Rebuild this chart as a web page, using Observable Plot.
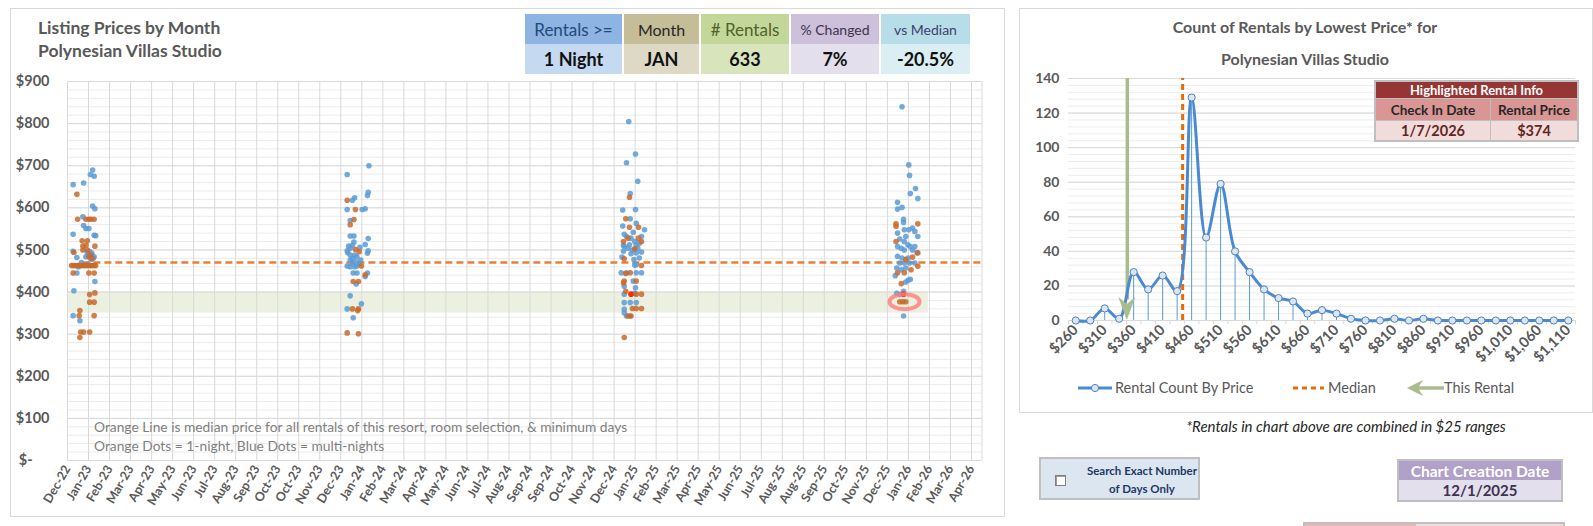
<!DOCTYPE html>
<html><head><meta charset="utf-8">
<script src="https://cdn.jsdelivr.net/npm/d3@7"></script>
<script src="https://cdn.jsdelivr.net/npm/@observablehq/plot@0.6"></script>
<style>
body{margin:0;background:#fff;font-family:Lato,"Open Sans",sans-serif;}
#root{position:relative;width:1593px;height:526px;overflow:hidden;background:#fff;}
.abs{position:absolute;white-space:nowrap;box-sizing:border-box;}
.cell{position:absolute;box-sizing:border-box;display:flex;align-items:center;justify-content:center;white-space:nowrap;}
svg{overflow:visible;}
</style></head><body><div id="root"></div>
<script>
// ---------------- DATA ----------------
const monthTickLabels = ["Dec-22","Jan-23","Feb-23","Mar-23","Apr-23","May-23","Jun-23","Jul-23","Aug-23","Sep-23","Oct-23","Oct-23","Nov-23","Dec-23","Jan-24","Feb-24","Mar-24","Apr-24","May-24","Jun-24","Jul-24","Aug-24","Sep-24","Sep-24","Oct-24","Nov-24","Dec-24","Jan-25","Feb-25","Mar-25","Apr-25","May-25","Jun-25","Jul-25","Aug-25","Aug-25","Sep-25","Oct-25","Nov-25","Dec-25","Jan-26","Feb-26","Mar-26","Apr-26"];
const tickStart = [2022, 11, 25];   // first tick date
const tickStepDays = 28;
const axisEnd = [2026, 3, 26];      // right end of the date axis
const priceTicks = [0,100,200,300,400,500,600,700,800,900];
const medianPrice = 470;
const medianStart = [2023, 0, 14];
const bandLow = 350, bandHigh = 400;
const bandEnd = [2026, 1, 13];

// [day of January, price]
const jan2023Multi = [[27,690],[24,679],[29,675],[1,655],[15,659],[27,604],[30,598],[14,579],[15,558],[18,551],[22,551],[29,535],[31,534],[1,537],[1,497],[6,482],[23,496],[26,492],[29,484],[25,478],[22,488],[18,484],[20,493],[25,488],[28,480],[30,425],[2,403],[1,344],[10,332],[6,445],[8,460],[12,470],[21,466]];
const jan2023OneNight = [[6,632],[7,573],[18,573],[22,573],[25,573],[29,573],[13,522],[20,522],[18,511],[14,509],[30,509],[2,494],[14,500],[20,500],[22,484],[24,488],[26,480],[-1,463],[1,463],[3,463],[5,463],[7,463],[9,463],[11,463],[13,463],[15,463],[17,463],[19,463],[21,463],[23,463],[25,463],[27,463],[29,463],[31,463],[1,445],[22,445],[29,445],[23,394],[30,398],[23,376],[29,376],[10,356],[9,344],[29,344],[11,305],[15,305],[23,305],[10,292]];
const jan2024Multi = [[30,700],[1,679],[29,637],[28,629],[11,624],[8,618],[1,596],[21,596],[25,598],[5,570],[5,533],[10,533],[29,527],[10,519],[8,511],[3,509],[5,504],[18,506],[25,513],[1,498],[2,493],[29,498],[28,492],[5,488],[11,488],[8,480],[14,484],[19,476],[1,462],[5,460],[11,460],[14,462],[9,445],[14,445],[28,445],[25,437],[13,419],[5,391],[20,372],[1,360],[9,339],[5,476],[8,468],[17,468],[12,472]];
const jan2024OneNight = [[1,618],[12,596],[10,572],[5,560],[12,501],[17,496],[20,462],[25,441],[9,425],[16,425],[8,360],[16,360],[15,356],[1,303],[16,301]];
const jan2025Multi = [[10,805],[19,728],[7,707],[22,663],[12,634],[2,595],[19,596],[12,574],[2,557],[20,563],[31,548],[16,542],[4,537],[7,532],[27,532],[13,528],[3,511],[4,508],[11,512],[20,512],[24,516],[3,497],[13,491],[20,493],[27,495],[1,483],[17,477],[24,481],[18,464],[20,465],[0,446],[7,446],[20,446],[27,446],[16,426],[4,414],[19,410],[4,395],[18,397],[4,375],[12,375],[20,375],[4,359],[4,351],[7,343],[12,343],[9,504],[15,500],[22,504],[18,520]];
const jan2025OneNight = [[11,625],[6,574],[11,554],[23,554],[3,520],[9,528],[23,528],[27,520],[18,503],[4,479],[27,463],[6,444],[12,446],[4,426],[3,422],[20,426],[6,402],[20,395],[27,395],[15,361],[20,361],[27,361],[9,343],[13,343],[4,292]];
const jan2026Multi = [[9,840],[18,702],[19,677],[27,646],[20,634],[30,622],[3,613],[3,597],[9,601],[11,573],[11,565],[23,552],[12,548],[18,548],[14,532],[26,544],[30,532],[3,540],[6,526],[12,520],[17,512],[20,508],[26,508],[3,508],[8,504],[12,500],[23,500],[29,493],[3,485],[9,481],[17,481],[6,469],[12,469],[19,469],[26,469],[2,457],[8,453],[14,457],[0,439],[17,428],[20,430],[14,424],[11,402],[2,397],[6,394],[11,343]];
const jan2026OneNight = [[1,562],[1,556],[30,562],[1,520],[30,493],[23,483],[14,477],[30,461],[21,453],[3,446],[12,446],[8,420],[6,377],[10,377],[14,377]];
const highlightDots = [[2025,13,395],[2026,11,395]]; // [year, day, price]
const ringSpot = [2026, 0, 13, 376];

// header boxes
const headerLabels = ["Rentals >=","Month","# Rentals","% Changed","vs Median"];
const headerValues = ["1 Night","JAN","633","7%","-20.5%"];

// right chart
const priceBins = [260,285,310,335,360,385,410,435,460,485,510,535,560,585,610,635,660,685,710,735,760,785,810,835,860,885,910,935,960,985,1010,1035,1060,1085,1110];
const rentalCounts = [0,0,7,1,28,18,26,17,129,48,79,40,28,18,13,11,4,6,4,1,0,0,1,0,1,0,0,0,0,0,0,0,0,0,0];
const binTickLabels = [260,310,360,410,460,510,560,610,660,710,760,810,860,910,960,1010,1060,1110];
const countTicks = [0,20,40,60,80,100,120,140];
const medianBinPrice = 444.5;
const thisRentalPrice = 349;
const highlightInfo = {checkIn: "1/7/2026", price: "$374"};
const creationDate = "12/1/2025";

// ---------------- BUILD ----------------
const root = document.getElementById("root");
function el(html){const t=document.createElement("template");t.innerHTML=html.trim();const n=t.content.firstChild;root.appendChild(n);return n;}
const U = (y,m,d,h=12) => new Date(Date.UTC(y,m,d,h));

const tickDates = monthTickLabels.map((_, i) => U(tickStart[0], tickStart[1], tickStart[2] + tickStepDays*i, 0));
const labelByTime = new Map(tickDates.map((d,i)=>[+d, monthTickLabels[i]]));
const toPts = (arr, year) => arr.map(([d,p]) => ({date: U(year,0,d), price: p}));
const blue = [...toPts(jan2023Multi,2023),...toPts(jan2024Multi,2024),...toPts(jan2025Multi,2025),...toPts(jan2026Multi,2026)];
const orange = [...toPts(jan2023OneNight,2023),...toPts(jan2024OneNight,2024),...toPts(jan2025OneNight,2025),...toPts(jan2026OneNight,2026)];
const reds = highlightDots.map(([y,d,p]) => ({date: U(y,0,d), price: p}));
const xEnd = U(axisEnd[0], axisEnd[1], axisEnd[2], 0);

// panels
el(`<div class="abs" style="left:10px;top:8px;width:995px;height:509px;border:1px solid #d9d9d9"></div>`);
el(`<div class="abs" style="left:1019px;top:8px;width:574px;height:405px;border:1px solid #d9d9d9"></div>`);

const left = Plot.plot({
  width: 990, height: 526,
  marginLeft: 67, marginRight: 8.5, marginTop: 81, marginBottom: 66,
  x: {type: "utc", domain: [tickDates[0], xEnd], label: null},
  y: {domain: [0, 900], label: null},
  style: {background: "transparent", fontFamily: "Lato, sans-serif", color: "#595959"},
  marks: [
    Plot.rect([{x1: tickDates[0], x2: U(...bandEnd), y1: bandLow, y2: bandHigh}], {x1:"x1", x2:"x2", y1:"y1", y2:"y2", fill: "#EBF1DE"}),
    Plot.gridY(d3.range(0, 901, 20), {stroke: "#ececec", strokeOpacity: 1}),
    Plot.gridY(priceTicks, {stroke: "#d9d9d9", strokeOpacity: 1}),
    Plot.gridX([...tickDates, xEnd], {stroke: "#d9d9d9", strokeOpacity: 1}),
    Plot.axisY(priceTicks, {tickSize: 0, tickPadding: 18, fontSize: 14.5, fontWeight: "bold", label: null,
      tickFormat: d => d === 0 ? "$-\u2007\u2007" : "$" + d}),
    Plot.axisX(tickDates, {tickSize: 0, tickPadding: 6, tickRotate: -60, fontSize: 12.5, fontWeight: "bold", label: null,
      tickFormat: d => labelByTime.get(+d)}),
    Plot.ruleY([{y: medianPrice, x1: U(...medianStart), x2: xEnd}], {y:"y", x1:"x1", x2:"x2", stroke: "#ED7D31", strokeWidth: 2.5, strokeDasharray: "7,4"}),
    Plot.dot(blue, {x: "date", y: "price", r: 2.8, fill: "#5B9BD5", fillOpacity: 0.85}),
    Plot.dot(orange, {x: "date", y: "price", r: 2.8, fill: "#C9692C", fillOpacity: 0.85}),
    Plot.dot(reds, {x: "date", y: "price", r: 2.8, fill: "#FF2A00"})
  ]
});
left.style.position = "absolute"; left.style.left = "0px"; left.style.top = "0px";
root.appendChild(left);
{
  const sx = left.scale("x"), sy = left.scale("y");
  d3.select(left).append("ellipse")
    .attr("cx", sx.apply(U(ringSpot[0], ringSpot[1], ringSpot[2]))).attr("cy", sy.apply(ringSpot[3]))
    .attr("rx", 15).attr("ry", 7.5).attr("fill", "none")
    .attr("stroke", "#FF7C7C").attr("stroke-opacity", 0.8).attr("stroke-width", 4);
}

// titles left
el(`<div class="abs" style="left:38px;top:17px;font-size:17.5px;font-weight:bold;color:#595959">Listing Prices by Month</div>`);
el(`<div class="abs" style="left:38px;top:40px;font-size:17.5px;font-weight:bold;color:#595959">Polynesian Villas Studio</div>`);

// header boxes
const boxX = [525,624,701,791,881], boxW = [97,75,88,88,89];
const hdrBg = ["#8DB4E2","#C4BD97","#C4D79B","#CCC0DA","#B7DEE8"];
const valBg = ["#C5D9F1","#DDD9C4","#D8E4BC","#E4DFEC","#DAEEF3"];
const hdrCol = ["#244A7C","#262626","#4F6228","#403151","#3F3F6F"];
const hdrSize = [17,16,17,14,14];
headerLabels.forEach((h,i)=>{
  el(`<div class="cell" style="left:${boxX[i]}px;top:14px;width:${boxW[i]}px;height:30px;background:${hdrBg[i]};color:${hdrCol[i]};font-size:${hdrSize[i]}px;">${h}</div>`);
  el(`<div class="cell" style="left:${boxX[i]}px;top:44px;width:${boxW[i]}px;height:30px;background:${valBg[i]};color:#111;font-size:18px;font-weight:bold;">${headerValues[i]}</div>`);
});

// annotations
el(`<div class="abs" style="left:94px;top:418px;font-size:13.8px;color:#7F7F7F">Orange Line is median price for all rentals of this resort, room selection, &amp; minimum days</div>`);
el(`<div class="abs" style="left:94px;top:437px;font-size:13.8px;color:#7F7F7F">Orange Dots = 1-night, Blue Dots = multi-nights</div>`);

// ---------------- RIGHT CHART ----------------
const bins = priceBins.map((p,i)=>({price: p, count: rentalCounts[i]}));
const right = Plot.plot({
  width: 574, height: 412,
  marginLeft: 49, marginRight: 18, marginTop: 78, marginBottom: 92,
  x: {domain: [247.5, 1122.5], label: null},
  y: {domain: [0, 140], label: null},
  style: {background: "transparent", fontFamily: "Lato, sans-serif", color: "#595959"},
  marks: [
    Plot.gridY(d3.range(0, 141, 4), {stroke: "#ededed", strokeOpacity: 1}),
    Plot.gridY(countTicks, {stroke: "#d9d9d9", strokeOpacity: 1}),
    Plot.ruleY([0], {stroke: "#d9d9d9"}),
    Plot.ruleX(d3.range(247.5, 1123, 25), {y1: 0, y2: -2.5, stroke: "#d9d9d9"}),
    Plot.axisY(countTicks, {tickSize: 0, tickPadding: 9, fontSize: 14, fontWeight: "bold", label: null}),
    Plot.axisX(binTickLabels, {tickSize: 0, tickPadding: 7, tickRotate: -45, fontSize: 14.5, fontWeight: "bold", label: null,
      tickFormat: d3.format("$,")}),
    Plot.ruleX(bins, {x: "price", y1: 0, y2: "count", stroke: "#5B9BD5", strokeWidth: 1}),
    Plot.ruleX([thisRentalPrice], {y1: 12, y2: 140, stroke: "#A9BD8C", strokeWidth: 3.5}),
    Plot.ruleX([medianBinPrice], {y1: 0, y2: 140, stroke: "#E46C0A", strokeWidth: 3, strokeDasharray: "6,4"}),
    Plot.line(bins, {x: "price", y: "count", curve: "catmull-rom", stroke: "#4A8AD4", strokeWidth: 3}),
    Plot.dot(bins, {x: "price", y: "count", r: 3.6, fill: "#DCE6F2", stroke: "#4F81BD", strokeWidth: 1})
  ]
});
right.style.position = "absolute"; right.style.left = "1019px"; right.style.top = "0px";
root.appendChild(right);
{
  const sx = right.scale("x"), sy = right.scale("y");
  const x = sx.apply(thisRentalPrice), y = sy.apply(0);
  d3.select(right).append("path")
    .attr("d", `M${x},${y} L${x-8.5},${y-23} L${x},${y-16} L${x+8.5},${y-23} Z`)
    .attr("fill", "#A9BD8C");
}

el(`<div class="abs" style="left:1019px;width:572px;top:17px;text-align:center;font-size:16px;font-weight:bold;color:#595959">Count of Rentals by Lowest Price* for</div>`);
el(`<div class="abs" style="left:1019px;width:572px;top:49px;text-align:center;font-size:16px;font-weight:bold;color:#595959">Polynesian Villas Studio</div>`);

// highlighted table
el(`<div class="abs" style="left:1374px;top:80px;width:205px;height:62px;border:2px solid #BFBFBF;background:#BFBFBF"></div>`);
el(`<div class="cell" style="left:1376px;top:82px;width:201px;height:16px;background:#963634;color:#fff;font-size:13px;font-weight:bold">Highlighted Rental Info</div>`);
el(`<div class="cell" style="left:1376px;top:99px;width:114px;height:21px;background:#DA9694;color:#262626;font-size:13.5px;font-weight:bold">Check In Date</div>`);
el(`<div class="cell" style="left:1491px;top:99px;width:86px;height:21px;background:#DA9694;color:#262626;font-size:13.5px;font-weight:bold">Rental Price</div>`);
el(`<div class="cell" style="left:1376px;top:121px;width:114px;height:19px;background:#F2DCDB;color:#632523;font-size:14.5px;font-weight:bold">${highlightInfo.checkIn}</div>`);
el(`<div class="cell" style="left:1491px;top:121px;width:86px;height:19px;background:#F2DCDB;color:#632523;font-size:14.5px;font-weight:bold">${highlightInfo.price}</div>`);

// legend
el(`<svg class="abs" style="left:1076px;top:380px" width="40" height="16"><line x1="2" y1="8" x2="36" y2="8" stroke="#4A8AD4" stroke-width="3"/><circle cx="19" cy="8" r="3.6" fill="#DCE6F2" stroke="#4F81BD"/></svg>`);
el(`<div class="abs" style="left:1115px;top:379px;font-size:14.5px;color:#595959">Rental Count By Price</div>`);
el(`<svg class="abs" style="left:1291px;top:380px" width="36" height="16"><line x1="2" y1="8" x2="33" y2="8" stroke="#E46C0A" stroke-width="3" stroke-dasharray="5,4"/></svg>`);
el(`<div class="abs" style="left:1328px;top:379px;font-size:14.5px;color:#595959">Median</div>`);
el(`<svg class="abs" style="left:1406px;top:378px" width="40" height="20"><line x1="12" y1="10" x2="38" y2="10" stroke="#A9BD8C" stroke-width="3.5"/><path d="M1,10 L17,2 L12,10 L17,18 Z" fill="#A9BD8C"/></svg>`);
el(`<div class="abs" style="left:1444px;top:379px;font-size:14.5px;color:#595959">This Rental</div>`);

el(`<div class="abs" style="left:1019px;width:654px;top:417px;text-align:center;font-size:15px;font-style:italic;color:#262626">*Rentals in chart above are combined in $25 ranges</div>`);

// checkbox box
el(`<div class="abs" style="left:1039px;top:457px;width:161px;height:43px;background:#DCE6F1;border:2px solid #BFBFBF"></div>`);
el(`<div class="abs" style="left:1055px;top:475px;width:11px;height:11px;background:#fff;border:1px solid #7F7F7F;box-shadow:inset 1px 1px 0 #a0a0a0"></div>`);
el(`<div class="abs" style="left:1080px;width:124px;top:462px;text-align:center;font-size:11.5px;font-weight:bold;color:#1F3864;line-height:18px">Search Exact Number<br>of Days Only</div>`);

// chart creation date
el(`<div class="abs" style="left:1397px;top:459px;width:166px;height:43px;border:2px solid #BFBFBF;background:#E4DFEC"></div>`);
el(`<div class="cell" style="left:1399px;top:461px;width:162px;height:19px;background:#B1A0C7;color:#fff;font-size:15.5px;font-weight:bold">Chart Creation Date</div>`);
el(`<div class="cell" style="left:1399px;top:480px;width:162px;height:20px;color:#403151;font-size:15px;font-weight:bold">${creationDate}</div>`);

// partial box at bottom
el(`<div class="abs" style="left:1303px;top:522px;width:262px;height:16px;border:2px solid #BFBFBF;background:#F2DCDB"></div>`);
el(`<div class="abs" style="left:1305px;top:524px;width:111px;height:12px;background:#E6B8B7"></div>`);
</script></body></html>
